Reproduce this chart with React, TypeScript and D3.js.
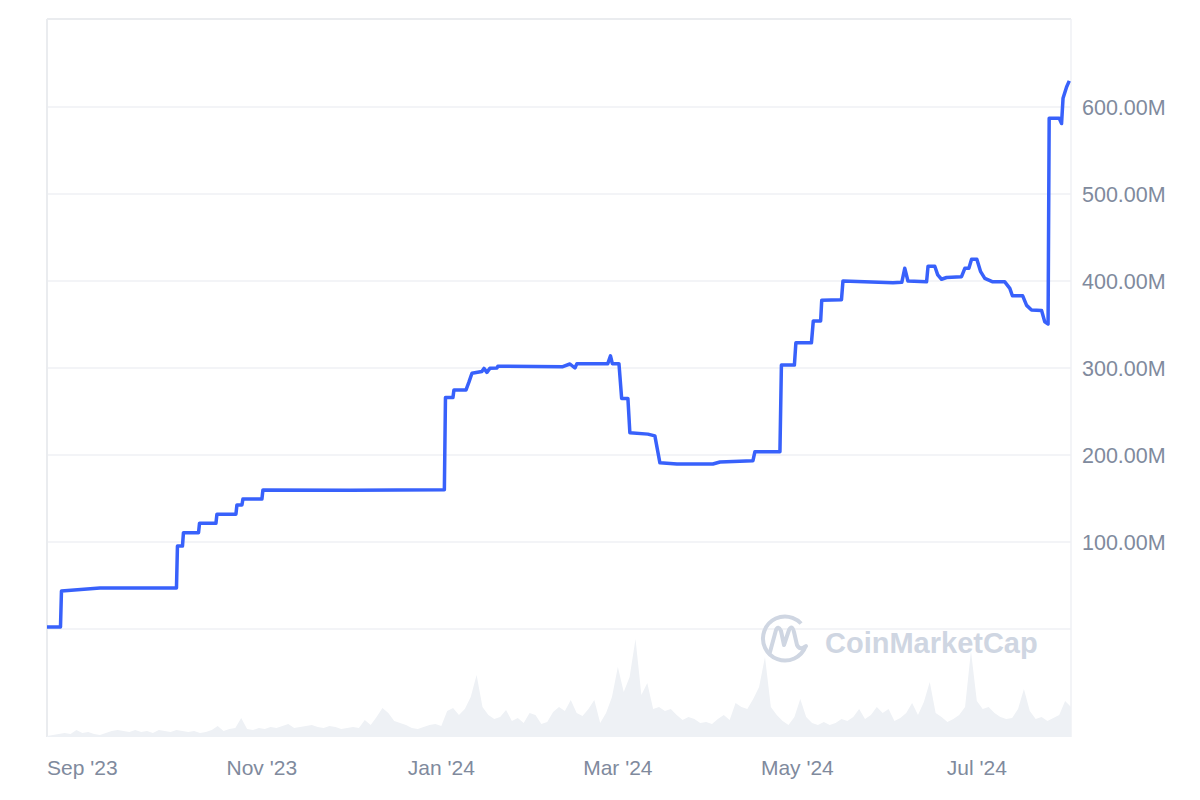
import React from "react";
import * as d3 from "d3";

const priceTimes = ["2023-08-20T00:00","2023-08-24T14:00","2023-08-24T22:00","2023-09-07T00:00","2023-10-03T00:00","2023-10-03T08:00","2023-10-05T01:00","2023-10-05T09:00","2023-10-10T12:00","2023-10-10T20:00","2023-10-16T10:00","2023-10-16T18:00","2023-10-23T05:00","2023-10-23T13:00","2023-10-25T06:00","2023-10-25T14:00","2023-11-01T01:00","2023-11-01T09:00","2023-12-01T00:00","2024-01-02T01:00","2024-01-02T10:00","2024-01-04T23:00","2024-01-05T07:00","2024-01-09T09:00","2024-01-10T10:00","2024-01-11T10:00","2024-01-14T19:00","2024-01-15T12:00","2024-01-16T12:00","2024-01-17T12:00","2024-01-19T22:00","2024-01-20T05:00","2024-02-11T07:00","2024-02-13T17:00","2024-02-15T10:00","2024-02-16T02:00","2024-02-26T14:00","2024-02-27T12:00","2024-02-28T03:00","2024-03-01T09:00","2024-03-02T07:00","2024-03-04T10:00","2024-03-05T02:00","2024-03-11T05:00","2024-03-13T14:00","2024-03-15T07:00","2024-03-21T02:00","2024-04-02T07:00","2024-04-04T17:00","2024-04-15T22:00","2024-04-16T14:00","2024-04-25T02:00","2024-04-25T14:00","2024-04-30T00:00","2024-04-30T12:00","2024-05-05T19:00","2024-05-06T10:00","2024-05-08T22:00","2024-05-09T07:00","2024-05-16T00:00","2024-05-16T12:00","2024-06-02T12:00","2024-06-05T12:00","2024-06-06T12:00","2024-06-07T14:00","2024-06-13T22:00","2024-06-14T10:00","2024-06-16T17:00","2024-06-17T17:00","2024-06-19T00:00","2024-06-20T17:00","2024-06-25T19:00","2024-06-26T22:00","2024-06-28T07:00","2024-06-29T05:00","2024-07-01T00:00","2024-07-02T07:00","2024-07-03T17:00","2024-07-06T10:00","2024-07-10T12:00","2024-07-12T05:00","2024-07-13T02:00","2024-07-16T14:00","2024-07-17T22:00","2024-07-19T14:00","2024-07-23T00:00","2024-07-24T02:00","2024-07-25T05:00","2024-07-25T14:00","2024-07-29T00:00","2024-07-29T19:00","2024-07-30T07:00","2024-07-31T12:00","2024-08-01T10:00"];

const priceValuesM = [2.3,2.3,43.7,47,47.2,95.4,95.4,110.7,110.7,121.5,121.5,132,132,142.5,142.5,149.4,149.4,159.8,159.5,160,266,266,274.7,274.7,284,294,296,299.6,295,299.6,300,302,301.5,304.6,300,305,305,314,305,305,265,265,225.6,224,222,191,189.7,189.7,192,193.5,203.8,203.8,303.4,303.4,329,329,354,354,378,378.5,400,398,398.5,414.6,400,399,417,417,407,402,404,405,414.6,414.6,425,425,410.7,403,399,399,391.6,383,383,372,366.7,366,353,350.6,587,587,581,610,623,630];

// volume (relative units), one value every 2 days starting at volumeStart
const volumeStart = "2023-08-20T00:00";
const volumeValues = [1,2,3,4,3,7,4,5,3,2,4,6,7,6,5,7,5,6,4,7,6,5,7,6,5,6,4,5,7,11,6,8,9,19,8,7,9,8,10,9,11,13,9,10,11,12,10,9,11,10,8,9,10,9,17,12,20,29,24,16,14,12,9,8,10,12,13,11,26,29,22,28,40,62,30,22,18,20,27,16,19,14,24,22,13,15,25,30,26,37,24,21,28,37,14,24,40,70,45,60,98,42,54,28,30,26,28,22,17,20,18,14,15,13,18,22,17,34,30,28,38,50,80,30,22,16,12,20,38,20,14,12,15,12,14,18,16,20,28,18,22,30,24,28,16,19,24,34,22,35,55,24,20,15,18,22,30,86,36,28,30,24,20,18,19,28,48,26,18,20,16,19,22,36,30];

const yTicksM = [100, 200, 300, 400, 500, 600];
const gridValuesM = [0, 100, 200, 300, 400, 500, 600];
const domainStart = "2023-08-20T00:00";
const domainEnd = "2024-08-02T00:00";

const parse = d3.timeParse("%Y-%m-%dT%H:%M");

export default function App() {
  const left = 47, right = 1071, top = 19, zeroY = 629, volBottom = 737;
  const x = d3.scaleTime().domain([parse(domainStart)!, parse(domainEnd)!]).range([left, right]);
  const y = d3.scaleLinear().domain([0, 100]).range([zeroY, zeroY - 87]);
  const yMax = y.invert(top);
  const yv = d3.scaleLinear().domain([0, 108]).range([volBottom, volBottom - 108]);

  const price = priceTimes.map((t, i) => ({ t: parse(t)!, v: priceValuesM[i] }));
  const vs = parse(volumeStart)!;
  const vol = volumeValues.map((v, i) => ({ t: d3.timeDay.offset(vs, 2 * i), v }));

  const line = d3.line<{ t: Date; v: number }>().x(d => x(d.t)).y(d => y(d.v));
  const area = d3.area<{ t: Date; v: number }>().x(d => x(d.t)).y0(volBottom).y1(d => yv(d.v));

  const ticks = x.ticks(d3.timeMonth.every(2)!);
  const fmt = d3.timeFormat("%b '%y");
  const font = "'Liberation Sans', Arial, Helvetica, sans-serif";
  const grid = "#eff1f4";

  return (
    <svg width={1200} height={800} style={{ position: "absolute", left: 0, top: 0, background: "#fff" }}>
      {gridValuesM.map(g => (
        <line key={g} x1={left} x2={right} y1={y(g)} y2={y(g)} stroke={grid} strokeWidth={1.5} />
      ))}
      <line x1={left} x2={right} y1={y(yMax)} y2={y(yMax)} stroke="#eaecef" strokeWidth={2} />
      <line x1={left} x2={left} y1={top} y2={volBottom} stroke="#eaecef" strokeWidth={2} />
      <line x1={right} x2={right} y1={top} y2={volBottom} stroke={grid} strokeWidth={1.5} />
      <path d={area(vol)!} fill="#eef1f5" />
      <g>
        <circle cx={785} cy={638.5} r={22} fill="none" stroke="#cfd6e2" strokeWidth={4}
          strokeDasharray={`${2 * Math.PI * 22 * 0.82} ${2 * Math.PI * 22 * 0.18}`} transform="rotate(20 785 638.5)" />
        <path d="M770,652 L776,630 Q778,625 781,631 L784,645 L789,630 Q792,624 794,632 L797,645 Q800,651 806,646"
          fill="none" stroke="#cfd6e2" strokeWidth={4} strokeLinecap="round" strokeLinejoin="round" />
        <text x={825} y={653} fontFamily={font} fontWeight={700} fontSize={29} fill="#cfd6e2">CoinMarketCap</text>
      </g>
      <path d={line(price)!} fill="none" stroke="#3861fb" strokeWidth={3.5} strokeLinejoin="round" />
      {yTicksM.map(t => (
        <text key={t} x={1082} y={y(t)} dy="0.35em" fontFamily={font} fontSize={21.5} fill="#808a9d">
          {t.toFixed(2)}M
        </text>
      ))}
      {ticks.map(t => (
        <text key={+t} x={x(t)} y={768} dy="0.35em" textAnchor="middle" fontFamily={font} fontSize={21} fill="#808a9d">
          {fmt(t)}
        </text>
      ))}
    </svg>
  );
}
